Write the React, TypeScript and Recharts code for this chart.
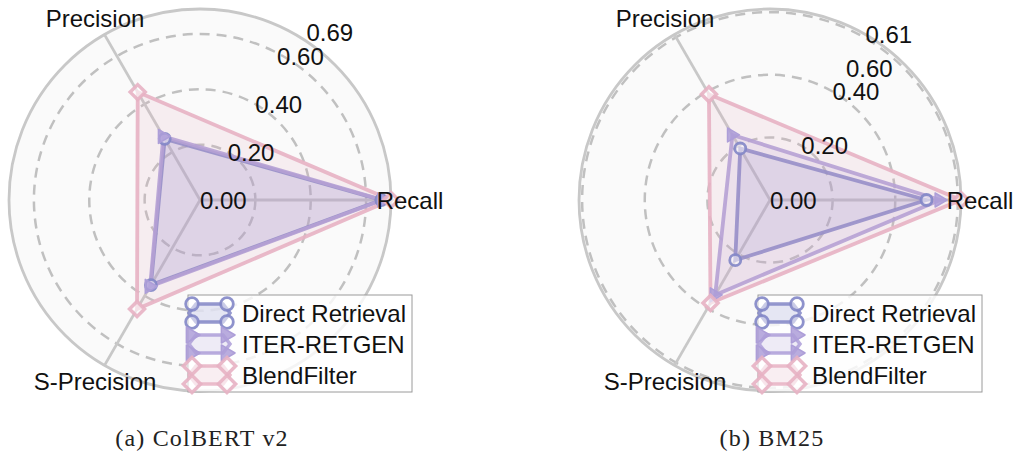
import React from 'react';
import { RadarChart, Radar, PolarGrid, PolarAngleAxis, PolarRadiusAxis } from 'recharts';

// categories, in clockwise drawing order starting at 3 o'clock
const metrics = ['Recall', 'S-Precision', 'Precision'];
const seriesNames = ['Direct Retrieval', 'ITER-RETGEN', 'BlendFilter'];
const seriesKeys = ['direct', 'iter', 'blend'];

// values in the same order as metrics: Recall, S-Precision, Precision
const colbertDirect = [0.655, 0.355, 0.255];
const colbertIter = [0.66, 0.36, 0.265];
const colbertBlend = [0.69, 0.455, 0.45];

const bm25Direct = [0.5, 0.222, 0.19];
const bm25Iter = [0.543, 0.35, 0.24];
const bm25Blend = [0.61, 0.38, 0.39];

const colbertTicks = [0, 0.2, 0.4, 0.6, 0.69];
const bm25Ticks = [0, 0.2, 0.4, 0.6, 0.61];

const captions = ['(a) ColBERT v2', '(b) BM25'];

const COLORS = ['#8286c6', '#ad9ed8', '#e7b1c3'];
const FONT = '"Liberation Sans", Arial, Helvetica, sans-serif';
const SERIF = '"Liberation Serif", "Times New Roman", serif';
const W = 450;
const H = 420;
const CX = 200;
const CY = 200;
const R = 191;
const LABEL_R = 210;

function buildData(direct: number[], iter: number[], blend: number[]) {
  return metrics.map((m, i) => ({ metric: m, direct: direct[i], iter: iter[i], blend: blend[i] }));
}

function Marker({ kind, cx, cy, scale = 1 }: { kind: number; cx: number; cy: number; scale?: number }) {
  const color = COLORS[kind];
  if (kind === 0) {
    return <circle cx={cx} cy={cy} r={5.5 * scale} fill="rgba(255,255,255,0.5)" stroke={color} strokeWidth={2.8} strokeOpacity={0.9} />;
  }
  if (kind === 1) {
    const s = 7 * scale;
    const pts = `${cx + s},${cy} ${cx - s * 0.7},${cy - s} ${cx - s * 0.7},${cy + s}`;
    return <polygon points={pts} fill={color} fillOpacity={0.85} stroke={color} strokeWidth={1.5} strokeLinejoin="round" />;
  }
  const d = 7.5 * scale;
  const pts = `${cx},${cy - d} ${cx + d},${cy} ${cx},${cy + d} ${cx - d},${cy}`;
  return <polygon points={pts} fill="rgba(255,255,255,0.6)" stroke={color} strokeWidth={3.5} strokeOpacity={0.9} />;
}

function Legend() {
  const top = 295;
  const rows = [313, 344, 375];
  return (
    <svg width={W} height={H} style={{ position: 'absolute', left: 0, top: 0, pointerEvents: 'none' }}>
      <rect x={188} y={top} width={224} height={97} fill="#ffffff" fillOpacity={0.8} stroke="#9a9a9a" strokeWidth={1} />
      {seriesNames.map((name, i) => {
        const yc = rows[i];
        const x0 = 192;
        const x1 = 227;
        const hex = `${x0 - 3},${yc} ${x0 + 4},${yc - 9} ${x1 - 4},${yc - 9} ${x1 + 3},${yc} ${x1 - 4},${yc + 9} ${x0 + 4},${yc + 9}`;
        return (
          <g key={name}>
            <polygon points={hex} fill={COLORS[i]} fillOpacity={0.2} stroke={COLORS[i]} strokeWidth={3.5} strokeOpacity={0.85} />
            <Marker kind={i} cx={x0} cy={yc - 9} scale={1.15} />
            <Marker kind={i} cx={x1} cy={yc - 9} scale={1.15} />
            <Marker kind={i} cx={x0} cy={yc + 9} scale={1.15} />
            <Marker kind={i} cx={x1} cy={yc + 9} scale={1.15} />
            <text x={242} y={yc} dominantBaseline="central" fontSize={24} fontFamily={FONT} fill="#111">{name}</text>
          </g>
        );
      })}
    </svg>
  );
}

function RadarPanel({ left, direct, iter, blend, ticks, caption }: { left: number; direct: number[]; iter: number[]; blend: number[]; ticks: number[]; caption: string }) {
  const max = ticks[ticks.length - 1];
  const data = buildData(direct, iter, blend);
  const dashRadii = ticks.filter((t) => t > 0 && t < max).map((t) => (t / max) * R);
  const gapPx = (a: number, b: number) => (Math.abs(b - a) / max) * R;

  const radiusTick = (props: any) => {
    const { x, y, payload } = props;
    const v = payload.value as number;
    const i = ticks.indexOf(v);
    const next = i >= 0 ? ticks[i + 1] : undefined;
    const prev = i > 0 ? ticks[i - 1] : undefined;
    let sx = 0;
    let sy = 0;
    if (next !== undefined && gapPx(v, next) < 20) {
      // crowded: pull this label inward along its ray
      sx = -36 * Math.cos(Math.PI / 3);
      sy = 36 * Math.sin(Math.PI / 3);
    } else if (next !== undefined && gapPx(v, next) < 30) {
      sx = -6;
    } else if (prev !== undefined && gapPx(prev, v) >= 20 && gapPx(prev, v) < 30) {
      sx = 11;
      sy = -2;
    }
    return (
      <text x={x + sx} y={y + sy} textAnchor="start" dominantBaseline="central" fontSize={24} fontFamily={FONT} fill="#111">
        {v.toFixed(2)}
      </text>
    );
  };

  const angleTick = (props: any) => {
    const { x, y, payload } = props;
    const dx = x - CX;
    const dy = y - CY;
    const n = Math.hypot(dx, dy) || 1;
    return (
      <text x={CX + (dx / n) * LABEL_R} y={CY + (dy / n) * LABEL_R} textAnchor="middle" dominantBaseline="central" fontSize={24} fontFamily={FONT} fill="#111">
        {payload.value}
      </text>
    );
  };

  const chartProps = {
    width: W,
    height: H,
    data,
    cx: CX,
    cy: CY,
    outerRadius: R,
    startAngle: 0,
    endAngle: -360,
    margin: { top: 0, right: 0, bottom: 0, left: 0 },
  };

  const radiusAxis = (showTicks: boolean) => (
    <PolarRadiusAxis
      type="number"
      scale="linear"
      domain={[0, max]}
      allowDataOverflow={true}
      allowDecimals={true}
      ticks={ticks as any}
      tickCount={ticks.length}
      angle={60}
      axisLine={false}
      tick={showTicks ? radiusTick : false}
    />
  );

  return (
    <div style={{ position: 'absolute', left, top: 0, width: W, height: 458 }}>
      <div style={{ position: 'absolute', left: CX - R, top: CY - R, width: 2 * R, height: 2 * R, borderRadius: '50%', background: '#fafafa' }} />
      <div style={{ position: 'absolute', left: 0, top: 0 }}>
        <RadarChart {...chartProps}>
          <PolarGrid gridType="circle" polarRadius={dashRadii} radialLines={false} stroke="#c0c0c0" strokeWidth={2.5} strokeDasharray="10 7" />
          <PolarGrid gridType="circle" polarRadius={[R]} radialLines={true} stroke="#c8c8c8" strokeWidth={2.8} />
          {seriesKeys.map((k, i) => (
            <Radar
              key={k}
              name={seriesNames[i]}
              dataKey={k}
              stroke={COLORS[i]}
              strokeOpacity={0.9}
              strokeWidth={3.8}
              fill={COLORS[i]}
              fillOpacity={0.16}
              isAnimationActive={false}
              dot={(p: any) => <Marker key={`${k}-${p.index}`} kind={i} cx={p.cx} cy={p.cy} />}
            />
          ))}
          <PolarAngleAxis dataKey="metric" tick={false} tickLine={false} axisLine={false} />
          {radiusAxis(false)}
        </RadarChart>
      </div>
      <div style={{ position: 'absolute', left: 0, top: 0 }}>
        <RadarChart {...chartProps}>
          <PolarAngleAxis dataKey="metric" tick={angleTick} tickLine={false} axisLine={false} />
          {radiusAxis(true)}
        </RadarChart>
      </div>
      <Legend />
      <div style={{ position: 'absolute', left: CX + 2 - 150, width: 300, top: 424, textAlign: 'center', fontFamily: SERIF, fontSize: 24, letterSpacing: 1.2, color: '#222', lineHeight: '28px' }}>
        {caption}
      </div>
    </div>
  );
}

export default function App() {
  return (
    <div style={{ position: 'absolute', left: 0, top: 0, width: 1018, height: 458, background: '#ffffff', overflow: 'hidden' }}>
      <RadarPanel left={0} direct={colbertDirect} iter={colbertIter} blend={colbertBlend} ticks={colbertTicks} caption={captions[0]} />
      <RadarPanel left={570} direct={bm25Direct} iter={bm25Iter} blend={bm25Blend} ticks={bm25Ticks} caption={captions[1]} />
    </div>
  );
}
